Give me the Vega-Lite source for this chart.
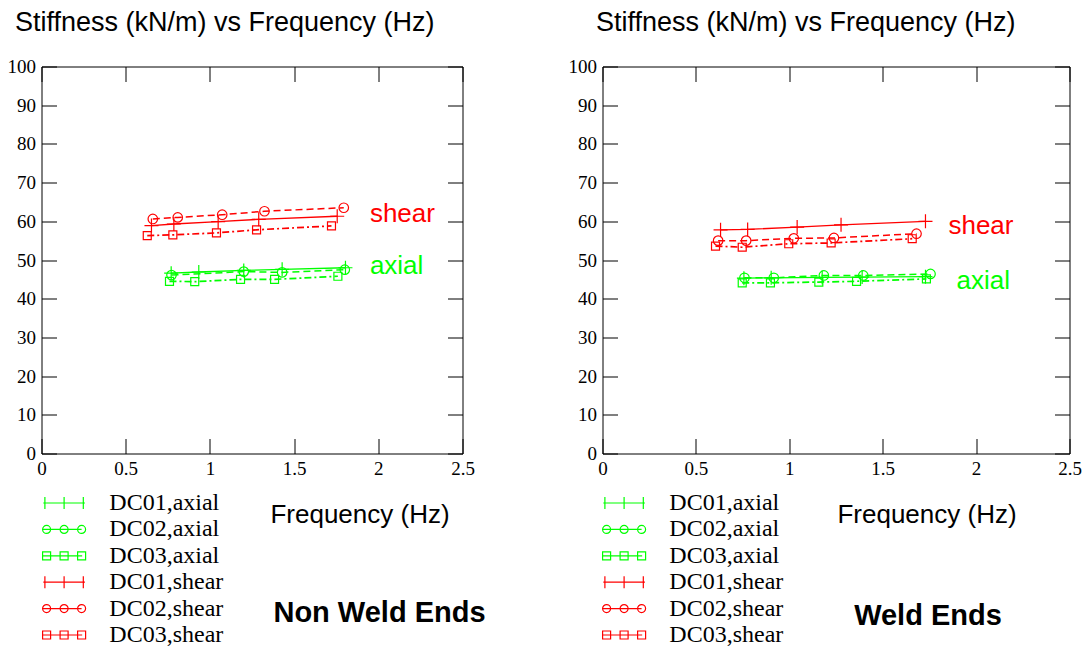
{
  "$schema": "https://vega.github.io/schema/vega-lite/v6.json",
  "background": "white",
  "padding": {"left": 6.5, "top": 7.5, "right": 0, "bottom": 0},
  "config": {
    "view": {"stroke": null},
    "axis": {"domainColor": "black", "tickColor": "black", "labelColor": "black", "grid": false, "domainWidth": 1, "tickWidth": 1, "labelFlush": false, "labelOverlap": false, "labelFont": "Liberation Serif", "labelFontSize": 19, "titleColor": "black", "titleFont": "Liberation Sans"}
  },
  "datasets": {
    "nw": [
      {"series": "DC01,axial", "freq": 0.770, "stiff": 46.6},
      {"series": "DC01,axial", "freq": 0.934, "stiff": 46.9},
      {"series": "DC01,axial", "freq": 1.201, "stiff": 47.3},
      {"series": "DC01,axial", "freq": 1.429, "stiff": 47.6},
      {"series": "DC01,axial", "freq": 1.805, "stiff": 48.0},
      {"series": "DC02,axial", "freq": 0.772, "stiff": 46.1},
      {"series": "DC02,axial", "freq": 1.201, "stiff": 47.0},
      {"series": "DC02,axial", "freq": 1.429, "stiff": 46.8},
      {"series": "DC02,axial", "freq": 1.801, "stiff": 47.5},
      {"series": "DC03,axial", "freq": 0.760, "stiff": 44.5},
      {"series": "DC03,axial", "freq": 0.910, "stiff": 44.4},
      {"series": "DC03,axial", "freq": 1.182, "stiff": 45.0},
      {"series": "DC03,axial", "freq": 1.384, "stiff": 45.0},
      {"series": "DC03,axial", "freq": 1.760, "stiff": 45.8},
      {"series": "DC01,shear", "freq": 0.653, "stiff": 58.9},
      {"series": "DC01,shear", "freq": 0.786, "stiff": 59.3},
      {"series": "DC01,shear", "freq": 1.049, "stiff": 59.9},
      {"series": "DC01,shear", "freq": 1.290, "stiff": 60.5},
      {"series": "DC01,shear", "freq": 1.756, "stiff": 61.3},
      {"series": "DC02,shear", "freq": 0.661, "stiff": 60.6},
      {"series": "DC02,shear", "freq": 0.809, "stiff": 61.0},
      {"series": "DC02,shear", "freq": 1.073, "stiff": 61.7},
      {"series": "DC02,shear", "freq": 1.324, "stiff": 62.6},
      {"series": "DC02,shear", "freq": 1.795, "stiff": 63.5},
      {"series": "DC03,shear", "freq": 0.628, "stiff": 56.3},
      {"series": "DC03,shear", "freq": 0.780, "stiff": 56.5},
      {"series": "DC03,shear", "freq": 1.039, "stiff": 57.0},
      {"series": "DC03,shear", "freq": 1.277, "stiff": 57.8},
      {"series": "DC03,shear", "freq": 1.722, "stiff": 58.8}
    ],
    "w": [
      {"series": "DC01,axial", "freq": 0.757, "stiff": 45.3},
      {"series": "DC01,axial", "freq": 0.903, "stiff": 45.4},
      {"series": "DC01,axial", "freq": 1.176, "stiff": 45.5},
      {"series": "DC01,axial", "freq": 1.390, "stiff": 45.6},
      {"series": "DC01,axial", "freq": 1.729, "stiff": 45.7},
      {"series": "DC02,axial", "freq": 0.760, "stiff": 45.4},
      {"series": "DC02,axial", "freq": 0.917, "stiff": 45.4},
      {"series": "DC02,axial", "freq": 1.185, "stiff": 46.0},
      {"series": "DC02,axial", "freq": 1.396, "stiff": 46.0},
      {"series": "DC02,axial", "freq": 1.756, "stiff": 46.4},
      {"series": "DC03,axial", "freq": 0.748, "stiff": 44.1},
      {"series": "DC03,axial", "freq": 0.899, "stiff": 44.1},
      {"series": "DC03,axial", "freq": 1.158, "stiff": 44.3},
      {"series": "DC03,axial", "freq": 1.360, "stiff": 44.5},
      {"series": "DC03,axial", "freq": 1.734, "stiff": 45.1},
      {"series": "DC01,shear", "freq": 0.632, "stiff": 57.8},
      {"series": "DC01,shear", "freq": 0.777, "stiff": 57.9},
      {"series": "DC01,shear", "freq": 1.042, "stiff": 58.5},
      {"series": "DC01,shear", "freq": 1.277, "stiff": 59.1},
      {"series": "DC01,shear", "freq": 1.729, "stiff": 60.0},
      {"series": "DC02,shear", "freq": 0.619, "stiff": 55.0},
      {"series": "DC02,shear", "freq": 0.769, "stiff": 55.0},
      {"series": "DC02,shear", "freq": 1.024, "stiff": 55.6},
      {"series": "DC02,shear", "freq": 1.239, "stiff": 55.7},
      {"series": "DC02,shear", "freq": 1.681, "stiff": 56.8},
      {"series": "DC03,shear", "freq": 0.605, "stiff": 53.6},
      {"series": "DC03,shear", "freq": 0.748, "stiff": 53.3},
      {"series": "DC03,shear", "freq": 0.997, "stiff": 54.2},
      {"series": "DC03,shear", "freq": 1.224, "stiff": 54.4},
      {"series": "DC03,shear", "freq": 1.658, "stiff": 55.5}
    ],
    "lab_nw": [
      {"label": "shear", "freq": 1.950, "stiff": 59.9},
      {"label": "axial", "freq": 1.950, "stiff": 46.4}
    ],
    "lab_w": [
      {"label": "shear", "freq": 1.852, "stiff": 56.6},
      {"label": "axial", "freq": 1.895, "stiff": 42.6}
    ]
  },
  "bounds": "flush",
  "spacing": 140,
  "resolve": {
    "scale": {"color": "independent", "shape": "independent"},
    "legend": {"color": "independent", "shape": "independent"}
  },
  "hconcat": [
    {
      "width": 421,
      "height": 387,
      "resolve": {"axis": {"x": "independent", "y": "independent"}},
      "layer": [
        {
          "data": {"name": "nw"},
          "transform": [{"filter": "datum.series=='DC01,axial' || datum.series=='DC01,shear'"}],
          "mark": {"type": "line", "strokeWidth": 1.3},
          "encoding": {
            "x": {"field": "freq", "type": "quantitative", "scale": {"domain": [0, 2.5], "nice": false, "zero": false},
              "axis": {"values": [0, 0.5, 1, 1.5, 2, 2.5], "format": "~g", "tickSize": -15, "labelPadding": 21, "title": "Frequency (Hz)", "titleFontSize": 26, "titleFontWeight": "normal", "titleX": 318, "titleY": 61, "titleAlign": "center", "titleBaseline": "middle"}},
            "y": {"field": "stiff", "type": "quantitative", "scale": {"domain": [0, 100], "nice": false},
              "axis": {"values": [0, 10, 20, 30, 40, 50, 60, 70, 80, 90, 100], "tickSize": -15, "labelPadding": 21, "title": "Stiffness (kN/m) vs Frequency (Hz)", "titleFontSize": 27, "titleFontWeight": "normal", "titleAngle": 0, "titleX": -27, "titleY": -57.5, "titleAlign": "left", "titleBaseline": "top"}},
            "color": {"field": "series", "type": "nominal", "scale": {"domain": ["DC01,axial", "DC02,axial", "DC03,axial", "DC01,shear", "DC02,shear", "DC03,shear"], "range": ["#00ff00", "#00ff00", "#00ff00", "#ff0000", "#ff0000", "#ff0000"]}}
          }
        },
        {
          "data": {"name": "nw"},
          "transform": [{"filter": "datum.series=='DC02,axial' || datum.series=='DC02,shear'"}],
          "mark": {"type": "line", "strokeWidth": 1.5, "strokeDash": [7, 4]},
          "encoding": {
            "x": {"field": "freq", "type": "quantitative", "scale": {"domain": [0, 2.5], "nice": false, "zero": false}, "axis": null},
            "y": {"field": "stiff", "type": "quantitative", "scale": {"domain": [0, 100], "nice": false}, "axis": null},
            "color": {"field": "series", "type": "nominal", "scale": {"domain": ["DC01,axial", "DC02,axial", "DC03,axial", "DC01,shear", "DC02,shear", "DC03,shear"], "range": ["#00ff00", "#00ff00", "#00ff00", "#ff0000", "#ff0000", "#ff0000"]}}
          }
        },
        {
          "data": {"name": "nw"},
          "transform": [{"filter": "datum.series=='DC03,axial' || datum.series=='DC03,shear'"}],
          "mark": {"type": "line", "strokeWidth": 1.7, "strokeDash": [7, 3, 2, 3]},
          "encoding": {
            "x": {"field": "freq", "type": "quantitative", "scale": {"domain": [0, 2.5], "nice": false, "zero": false}, "axis": null},
            "y": {"field": "stiff", "type": "quantitative", "scale": {"domain": [0, 100], "nice": false}, "axis": null},
            "color": {"field": "series", "type": "nominal", "scale": {"domain": ["DC01,axial", "DC02,axial", "DC03,axial", "DC01,shear", "DC02,shear", "DC03,shear"], "range": ["#00ff00", "#00ff00", "#00ff00", "#ff0000", "#ff0000", "#ff0000"]}}
          }
        },
        {
          "data": {"name": "nw"},
          "transform": [{"filter": "datum.series=='DC01,axial' || datum.series=='DC01,shear'"}],
          "mark": {"type": "point", "shape": "M-1,0L1,0M0,-1L0,1", "filled": false, "size": 196, "strokeWidth": 1.2, "opacity": 1},
          "encoding": {
            "x": {"field": "freq", "type": "quantitative", "scale": {"domain": [0, 2.5], "nice": false, "zero": false}, "axis": null},
            "y": {"field": "stiff", "type": "quantitative", "scale": {"domain": [0, 100], "nice": false}, "axis": null},
            "color": {"field": "series", "type": "nominal", "scale": {"domain": ["DC01,axial", "DC02,axial", "DC03,axial", "DC01,shear", "DC02,shear", "DC03,shear"], "range": ["#00ff00", "#00ff00", "#00ff00", "#ff0000", "#ff0000", "#ff0000"]}}
          }
        },
        {
          "data": {"name": "nw"},
          "transform": [{"filter": "datum.series=='DC02,axial' || datum.series=='DC02,shear'"}],
          "mark": {"type": "point", "shape": "M0.68,0A0.68,0.68 0 1,1 -0.68,0A0.68,0.68 0 1,1 0.68,0", "filled": false, "size": 196, "strokeWidth": 1.2, "opacity": 1},
          "encoding": {
            "x": {"field": "freq", "type": "quantitative", "scale": {"domain": [0, 2.5], "nice": false, "zero": false}, "axis": null},
            "y": {"field": "stiff", "type": "quantitative", "scale": {"domain": [0, 100], "nice": false}, "axis": null},
            "color": {"field": "series", "type": "nominal", "scale": {"domain": ["DC01,axial", "DC02,axial", "DC03,axial", "DC01,shear", "DC02,shear", "DC03,shear"], "range": ["#00ff00", "#00ff00", "#00ff00", "#ff0000", "#ff0000", "#ff0000"]}}
          }
        },
        {
          "data": {"name": "nw"},
          "transform": [{"filter": "datum.series=='DC03,axial' || datum.series=='DC03,shear'"}],
          "mark": {"type": "point", "shape": "M-0.57,-0.57L0.57,-0.57L0.57,0.57L-0.57,0.57Z", "filled": false, "size": 196, "strokeWidth": 1.2, "opacity": 1},
          "encoding": {
            "x": {"field": "freq", "type": "quantitative", "scale": {"domain": [0, 2.5], "nice": false, "zero": false}, "axis": null},
            "y": {"field": "stiff", "type": "quantitative", "scale": {"domain": [0, 100], "nice": false}, "axis": null},
            "color": {"field": "series", "type": "nominal", "scale": {"domain": ["DC01,axial", "DC02,axial", "DC03,axial", "DC01,shear", "DC02,shear", "DC03,shear"], "range": ["#00ff00", "#00ff00", "#00ff00", "#ff0000", "#ff0000", "#ff0000"]}}
          }
        },
        {
          "data": {"name": "nw"},
          "mark": {"type": "point", "filled": false, "size": 196, "strokeWidth": 1.2, "opacity": 0},
          "encoding": {
            "x": {"field": "freq", "type": "quantitative", "scale": {"domain": [0, 2.5], "nice": false, "zero": false}, "axis": null},
            "y": {"field": "stiff", "type": "quantitative", "scale": {"domain": [0, 100], "nice": false}, "axis": null},
            "color": {"field": "series", "type": "nominal", "scale": {"domain": ["DC01,axial", "DC02,axial", "DC03,axial", "DC01,shear", "DC02,shear", "DC03,shear"], "range": ["#00ff00", "#00ff00", "#00ff00", "#ff0000", "#ff0000", "#ff0000"]},
              "legend": {"orient": "none", "legendX": 1, "legendY": 422.5, "title": null, "padding": 0, "labelFont": "Liberation Serif", "labelFontSize": 24, "labelColor": "black", "labelOffset": 31.2, "labelLimit": 400, "symbolSize": 697, "symbolOffset": 7.6, "symbolStrokeWidth": 1.2, "symbolOpacity": 1, "rowPadding": 0.4,
                "encode": {"symbols": {"opacity": {"value": 1}, "size": {"value": 697}, "fill": {"value": "transparent"}}}}},
            "shape": {"field": "series", "type": "nominal",
              "scale": {"domain": ["DC01,axial", "DC02,axial", "DC03,axial", "DC01,shear", "DC02,shear", "DC03,shear"], "range": [
                "M-1.576,0L1.576,0M-1.455,-0.455L-1.455,0.455M0,-0.455L0,0.455M1.455,-0.455L1.455,0.455",
                "M-1.629,0L1.326,0M-1.023,0A0.303,0.303 0 1,1 -1.629,0A0.303,0.303 0 1,1 -1.023,0M0.303,0A0.303,0.303 0 1,1 -0.303,0A0.303,0.303 0 1,1 0.303,0M1.629,0A0.303,0.303 0 1,1 1.023,0A0.303,0.303 0 1,1 1.629,0",
                "M-1.629,0L1.326,0M-1.629,-0.303L-1.023,-0.303L-1.023,0.303L-1.629,0.303ZM-0.303,-0.303L0.303,-0.303L0.303,0.303L-0.303,0.303ZM1.023,-0.303L1.629,-0.303L1.629,0.303L1.023,0.303ZM1.28,0L1.37,0",
                "M-1.576,0L1.576,0M-1.455,-0.455L-1.455,0.455M0,-0.455L0,0.455M1.455,-0.455L1.455,0.455",
                "M-1.629,0L1.326,0M-1.023,0A0.303,0.303 0 1,1 -1.629,0A0.303,0.303 0 1,1 -1.023,0M0.303,0A0.303,0.303 0 1,1 -0.303,0A0.303,0.303 0 1,1 0.303,0M1.629,0A0.303,0.303 0 1,1 1.023,0A0.303,0.303 0 1,1 1.629,0",
                "M-1.629,0L1.326,0M-1.629,-0.303L-1.023,-0.303L-1.023,0.303L-1.629,0.303ZM-0.303,-0.303L0.303,-0.303L0.303,0.303L-0.303,0.303ZM1.023,-0.303L1.629,-0.303L1.629,0.303L1.023,0.303ZM1.28,0L1.37,0"]},
              "legend": {"orient": "none", "legendX": 1, "legendY": 422.5, "title": null, "padding": 0, "labelFont": "Liberation Serif", "labelFontSize": 24, "labelColor": "black", "labelOffset": 31.2, "labelLimit": 400, "symbolSize": 697, "symbolOffset": 7.6, "symbolStrokeWidth": 1.2, "symbolOpacity": 1, "rowPadding": 0.4,
                "encode": {"symbols": {"opacity": {"value": 1}, "size": {"value": 697}, "fill": {"value": "transparent"}}}}}
          }
        },
        {
          "data": {"name": "lab_nw"},
          "transform": [{"filter": "datum.label=='shear'"}],
          "mark": {"type": "text", "align": "left", "baseline": "alphabetic", "font": "Liberation Sans", "fontSize": 26, "color": "#ff0000"},
          "encoding": {
            "x": {"field": "freq", "type": "quantitative", "scale": {"domain": [0, 2.5], "nice": false, "zero": false},
              "axis": {"orient": "top", "values": [0, 0.5, 1, 1.5, 2, 2.5], "tickSize": -15, "labels": false, "title": null}},
            "y": {"field": "stiff", "type": "quantitative", "scale": {"domain": [0, 100], "nice": false},
              "axis": {"orient": "right", "values": [0, 10, 20, 30, 40, 50, 60, 70, 80, 90, 100], "tickSize": -15, "labels": false, "title": "Non Weld Ends", "titleFontSize": 29, "titleFontWeight": "bold", "titleAngle": 0, "titleX": -83.5, "titleY": 546, "titleAlign": "center", "titleBaseline": "middle"}},
            "text": {"field": "label"}
          }
        },
        {
          "data": {"name": "lab_nw"},
          "transform": [{"filter": "datum.label=='axial'"}],
          "mark": {"type": "text", "align": "left", "baseline": "alphabetic", "font": "Liberation Sans", "fontSize": 26, "color": "#00ff00"},
          "encoding": {
            "x": {"field": "freq", "type": "quantitative", "scale": {"domain": [0, 2.5], "nice": false, "zero": false}, "axis": null},
            "y": {"field": "stiff", "type": "quantitative", "scale": {"domain": [0, 100], "nice": false}, "axis": null},
            "text": {"field": "label"}
          }
        }
      ]
    },
    {
      "width": 467,
      "height": 387,
      "resolve": {"axis": {"x": "independent", "y": "independent"}},
      "layer": [
        {
          "data": {"name": "w"},
          "transform": [{"filter": "datum.series=='DC01,axial' || datum.series=='DC01,shear'"}],
          "mark": {"type": "line", "strokeWidth": 1.3},
          "encoding": {
            "x": {"field": "freq", "type": "quantitative", "scale": {"domain": [0, 2.5], "nice": false, "zero": false},
              "axis": {"values": [0, 0.5, 1, 1.5, 2, 2.5], "format": "~g", "tickSize": -15, "labelPadding": 21, "title": "Frequency (Hz)", "titleFontSize": 26, "titleFontWeight": "normal", "titleX": 324, "titleY": 61, "titleAlign": "center", "titleBaseline": "middle"}},
            "y": {"field": "stiff", "type": "quantitative", "scale": {"domain": [0, 100], "nice": false},
              "axis": {"values": [0, 10, 20, 30, 40, 50, 60, 70, 80, 90, 100], "tickSize": -15, "labelPadding": 21, "title": "Stiffness (kN/m) vs Frequency (Hz)", "titleFontSize": 27, "titleFontWeight": "normal", "titleAngle": 0, "titleX": -7, "titleY": -57.5, "titleAlign": "left", "titleBaseline": "top"}},
            "color": {"field": "series", "type": "nominal", "scale": {"domain": ["DC01,axial", "DC02,axial", "DC03,axial", "DC01,shear", "DC02,shear", "DC03,shear"], "range": ["#00ff00", "#00ff00", "#00ff00", "#ff0000", "#ff0000", "#ff0000"]}}
          }
        },
        {
          "data": {"name": "w"},
          "transform": [{"filter": "datum.series=='DC02,axial' || datum.series=='DC02,shear'"}],
          "mark": {"type": "line", "strokeWidth": 1.5, "strokeDash": [7, 4]},
          "encoding": {
            "x": {"field": "freq", "type": "quantitative", "scale": {"domain": [0, 2.5], "nice": false, "zero": false}, "axis": null},
            "y": {"field": "stiff", "type": "quantitative", "scale": {"domain": [0, 100], "nice": false}, "axis": null},
            "color": {"field": "series", "type": "nominal", "scale": {"domain": ["DC01,axial", "DC02,axial", "DC03,axial", "DC01,shear", "DC02,shear", "DC03,shear"], "range": ["#00ff00", "#00ff00", "#00ff00", "#ff0000", "#ff0000", "#ff0000"]}}
          }
        },
        {
          "data": {"name": "w"},
          "transform": [{"filter": "datum.series=='DC03,axial' || datum.series=='DC03,shear'"}],
          "mark": {"type": "line", "strokeWidth": 1.7, "strokeDash": [7, 3, 2, 3]},
          "encoding": {
            "x": {"field": "freq", "type": "quantitative", "scale": {"domain": [0, 2.5], "nice": false, "zero": false}, "axis": null},
            "y": {"field": "stiff", "type": "quantitative", "scale": {"domain": [0, 100], "nice": false}, "axis": null},
            "color": {"field": "series", "type": "nominal", "scale": {"domain": ["DC01,axial", "DC02,axial", "DC03,axial", "DC01,shear", "DC02,shear", "DC03,shear"], "range": ["#00ff00", "#00ff00", "#00ff00", "#ff0000", "#ff0000", "#ff0000"]}}
          }
        },
        {
          "data": {"name": "w"},
          "transform": [{"filter": "datum.series=='DC01,axial' || datum.series=='DC01,shear'"}],
          "mark": {"type": "point", "shape": "M-1,0L1,0M0,-1L0,1", "filled": false, "size": 196, "strokeWidth": 1.2, "opacity": 1},
          "encoding": {
            "x": {"field": "freq", "type": "quantitative", "scale": {"domain": [0, 2.5], "nice": false, "zero": false}, "axis": null},
            "y": {"field": "stiff", "type": "quantitative", "scale": {"domain": [0, 100], "nice": false}, "axis": null},
            "color": {"field": "series", "type": "nominal", "scale": {"domain": ["DC01,axial", "DC02,axial", "DC03,axial", "DC01,shear", "DC02,shear", "DC03,shear"], "range": ["#00ff00", "#00ff00", "#00ff00", "#ff0000", "#ff0000", "#ff0000"]}}
          }
        },
        {
          "data": {"name": "w"},
          "transform": [{"filter": "datum.series=='DC02,axial' || datum.series=='DC02,shear'"}],
          "mark": {"type": "point", "shape": "M0.68,0A0.68,0.68 0 1,1 -0.68,0A0.68,0.68 0 1,1 0.68,0", "filled": false, "size": 196, "strokeWidth": 1.2, "opacity": 1},
          "encoding": {
            "x": {"field": "freq", "type": "quantitative", "scale": {"domain": [0, 2.5], "nice": false, "zero": false}, "axis": null},
            "y": {"field": "stiff", "type": "quantitative", "scale": {"domain": [0, 100], "nice": false}, "axis": null},
            "color": {"field": "series", "type": "nominal", "scale": {"domain": ["DC01,axial", "DC02,axial", "DC03,axial", "DC01,shear", "DC02,shear", "DC03,shear"], "range": ["#00ff00", "#00ff00", "#00ff00", "#ff0000", "#ff0000", "#ff0000"]}}
          }
        },
        {
          "data": {"name": "w"},
          "transform": [{"filter": "datum.series=='DC03,axial' || datum.series=='DC03,shear'"}],
          "mark": {"type": "point", "shape": "M-0.57,-0.57L0.57,-0.57L0.57,0.57L-0.57,0.57Z", "filled": false, "size": 196, "strokeWidth": 1.2, "opacity": 1},
          "encoding": {
            "x": {"field": "freq", "type": "quantitative", "scale": {"domain": [0, 2.5], "nice": false, "zero": false}, "axis": null},
            "y": {"field": "stiff", "type": "quantitative", "scale": {"domain": [0, 100], "nice": false}, "axis": null},
            "color": {"field": "series", "type": "nominal", "scale": {"domain": ["DC01,axial", "DC02,axial", "DC03,axial", "DC01,shear", "DC02,shear", "DC03,shear"], "range": ["#00ff00", "#00ff00", "#00ff00", "#ff0000", "#ff0000", "#ff0000"]}}
          }
        },
        {
          "data": {"name": "w"},
          "mark": {"type": "point", "filled": false, "size": 196, "strokeWidth": 1.2, "opacity": 0},
          "encoding": {
            "x": {"field": "freq", "type": "quantitative", "scale": {"domain": [0, 2.5], "nice": false, "zero": false}, "axis": null},
            "y": {"field": "stiff", "type": "quantitative", "scale": {"domain": [0, 100], "nice": false}, "axis": null},
            "color": {"field": "series", "type": "nominal", "scale": {"domain": ["DC01,axial", "DC02,axial", "DC03,axial", "DC01,shear", "DC02,shear", "DC03,shear"], "range": ["#00ff00", "#00ff00", "#00ff00", "#ff0000", "#ff0000", "#ff0000"]},
              "legend": {"orient": "none", "legendX": 0, "legendY": 422.5, "title": null, "padding": 0, "labelFont": "Liberation Serif", "labelFontSize": 24, "labelColor": "black", "labelOffset": 31.2, "labelLimit": 400, "symbolSize": 697, "symbolOffset": 7.6, "symbolStrokeWidth": 1.2, "symbolOpacity": 1, "rowPadding": 0.4,
                "encode": {"symbols": {"opacity": {"value": 1}, "size": {"value": 697}, "fill": {"value": "transparent"}}}}},
            "shape": {"field": "series", "type": "nominal",
              "scale": {"domain": ["DC01,axial", "DC02,axial", "DC03,axial", "DC01,shear", "DC02,shear", "DC03,shear"], "range": [
                "M-1.576,0L1.576,0M-1.455,-0.455L-1.455,0.455M0,-0.455L0,0.455M1.455,-0.455L1.455,0.455",
                "M-1.629,0L1.326,0M-1.023,0A0.303,0.303 0 1,1 -1.629,0A0.303,0.303 0 1,1 -1.023,0M0.303,0A0.303,0.303 0 1,1 -0.303,0A0.303,0.303 0 1,1 0.303,0M1.629,0A0.303,0.303 0 1,1 1.023,0A0.303,0.303 0 1,1 1.629,0",
                "M-1.629,0L1.326,0M-1.629,-0.303L-1.023,-0.303L-1.023,0.303L-1.629,0.303ZM-0.303,-0.303L0.303,-0.303L0.303,0.303L-0.303,0.303ZM1.023,-0.303L1.629,-0.303L1.629,0.303L1.023,0.303ZM1.28,0L1.37,0",
                "M-1.576,0L1.576,0M-1.455,-0.455L-1.455,0.455M0,-0.455L0,0.455M1.455,-0.455L1.455,0.455",
                "M-1.629,0L1.326,0M-1.023,0A0.303,0.303 0 1,1 -1.629,0A0.303,0.303 0 1,1 -1.023,0M0.303,0A0.303,0.303 0 1,1 -0.303,0A0.303,0.303 0 1,1 0.303,0M1.629,0A0.303,0.303 0 1,1 1.023,0A0.303,0.303 0 1,1 1.629,0",
                "M-1.629,0L1.326,0M-1.629,-0.303L-1.023,-0.303L-1.023,0.303L-1.629,0.303ZM-0.303,-0.303L0.303,-0.303L0.303,0.303L-0.303,0.303ZM1.023,-0.303L1.629,-0.303L1.629,0.303L1.023,0.303ZM1.28,0L1.37,0"]},
              "legend": {"orient": "none", "legendX": 0, "legendY": 422.5, "title": null, "padding": 0, "labelFont": "Liberation Serif", "labelFontSize": 24, "labelColor": "black", "labelOffset": 31.2, "labelLimit": 400, "symbolSize": 697, "symbolOffset": 7.6, "symbolStrokeWidth": 1.2, "symbolOpacity": 1, "rowPadding": 0.4,
                "encode": {"symbols": {"opacity": {"value": 1}, "size": {"value": 697}, "fill": {"value": "transparent"}}}}}
          }
        },
        {
          "data": {"name": "lab_w"},
          "transform": [{"filter": "datum.label=='shear'"}],
          "mark": {"type": "text", "align": "left", "baseline": "alphabetic", "font": "Liberation Sans", "fontSize": 26, "color": "#ff0000"},
          "encoding": {
            "x": {"field": "freq", "type": "quantitative", "scale": {"domain": [0, 2.5], "nice": false, "zero": false},
              "axis": {"orient": "top", "values": [0, 0.5, 1, 1.5, 2, 2.5], "tickSize": -15, "labels": false, "title": null}},
            "y": {"field": "stiff", "type": "quantitative", "scale": {"domain": [0, 100], "nice": false},
              "axis": {"orient": "right", "values": [0, 10, 20, 30, 40, 50, 60, 70, 80, 90, 100], "tickSize": -15, "labels": false, "title": "Weld Ends", "titleFontSize": 29, "titleFontWeight": "bold", "titleAngle": 0, "titleX": -142, "titleY": 549, "titleAlign": "center", "titleBaseline": "middle"}},
            "text": {"field": "label"}
          }
        },
        {
          "data": {"name": "lab_w"},
          "transform": [{"filter": "datum.label=='axial'"}],
          "mark": {"type": "text", "align": "left", "baseline": "alphabetic", "font": "Liberation Sans", "fontSize": 26, "color": "#00ff00"},
          "encoding": {
            "x": {"field": "freq", "type": "quantitative", "scale": {"domain": [0, 2.5], "nice": false, "zero": false}, "axis": null},
            "y": {"field": "stiff", "type": "quantitative", "scale": {"domain": [0, 100], "nice": false}, "axis": null},
            "text": {"field": "label"}
          }
        }
      ]
    }
  ]
}
